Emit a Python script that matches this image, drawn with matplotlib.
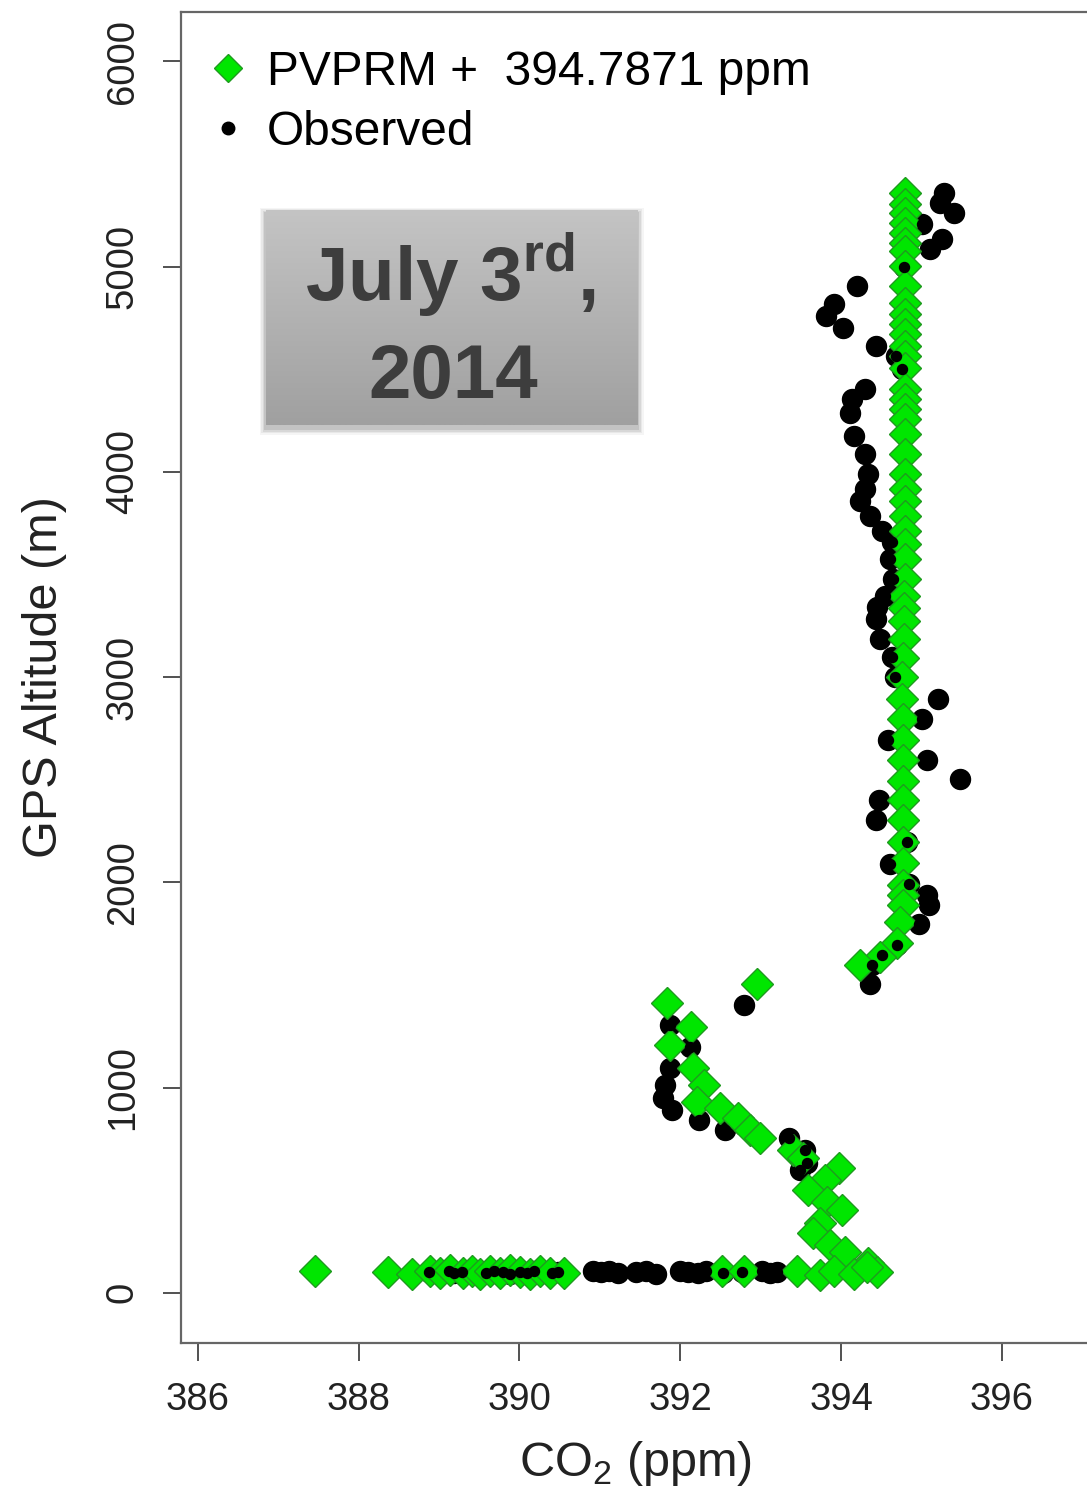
import numpy as np
import matplotlib
matplotlib.use('Agg')
import matplotlib.pyplot as plt
from matplotlib.lines import Line2D
from matplotlib.patches import Rectangle

plt.rcParams['font.family'] = ['Liberation Sans', 'DejaVu Sans']
plt.rcParams['mathtext.fontset'] = 'custom'
plt.rcParams['mathtext.rm'] = 'Liberation Sans'
plt.rcParams['mathtext.bf'] = 'Liberation Sans:bold'

# ── PVPRM (model + 394.7871 ppm offset) ──────────────────────────────
pv_co2 = [394.80, 394.80, 394.80, 394.80, 394.80, 394.80, 394.80, 394.80, 394.80, 394.80,
          394.80, 394.80, 394.80, 394.80, 394.80, 394.80, 394.80, 394.80, 394.80, 394.80,
          394.80, 394.80, 394.80, 394.80, 394.79, 394.79, 394.79, 394.79, 394.79, 394.79,
          394.78, 394.78, 394.78, 394.78, 394.77, 394.76, 394.76, 394.77, 394.77, 394.77,
          394.77, 394.77, 394.77, 394.77, 394.77, 394.77, 394.77, 394.77, 394.74, 394.70,
          394.49, 394.24,
          391.83, 392.14, 391.87, 392.16, 392.29, 392.21, 392.50, 392.72, 392.87, 392.99, 392.95,
          393.40, 393.53, 393.97, 393.80, 393.59, 393.82, 394.01, 393.74, 393.65, 393.86,
          394.05, 394.33, 394.45,
          387.46, 388.37, 388.66, 388.89, 389.01, 389.14, 389.30, 389.41, 389.51, 389.63,
          389.76, 389.88, 390.01, 390.13, 390.26, 390.38, 390.55,
          392.52, 392.79, 393.45, 393.74, 393.91, 394.16, 394.32]
pv_alt = [5360, 5305, 5260, 5212, 5163, 5114, 5075, 5002, 4905, 4822,
          4769, 4720, 4672, 4613, 4564, 4506, 4404, 4355, 4307, 4258,
          4185, 4088, 3990, 3917, 3859, 3786, 3713, 3650, 3577, 3480,
          3397, 3338, 3275, 3187, 3095, 2998, 2895, 2798, 2691, 2594,
          2496, 2399, 2302, 2195, 2092, 1985, 1937, 1888, 1805, 1703,
          1635, 1596,
          1410, 1296, 1207, 1093, 1012, 931, 899, 850, 793, 753, 1507,
          696, 657, 608, 550, 501, 443, 404, 341, 292, 234,
          200, 146, 100,
          104, 100, 92, 106, 98, 110, 95, 104, 90, 108,
          97, 112, 100, 94, 106, 99, 96,
          104, 104, 104, 88, 104, 90, 128]

# ── Observed aircraft profile ────────────────────────────────────────
obs_co2 = [395.28, 395.23, 395.40, 395.01, 395.26, 395.11, 394.78, 394.20, 393.91, 393.81,
           394.03, 394.43, 394.68, 394.76, 394.30, 394.14, 394.11, 394.16, 394.30, 394.34,
           394.30, 394.24, 394.36, 394.51, 394.63, 394.61, 394.65, 394.55, 394.45, 394.43,
           394.49, 394.63, 394.67, 395.21, 395.01, 394.59, 395.07, 395.48, 394.47, 394.43,
           394.82, 394.61, 394.84, 395.07, 395.09, 394.97, 394.70, 394.51, 394.38, 394.36,
           392.79, 391.87, 392.12, 391.87, 391.81, 391.79, 391.90, 392.23, 392.56, 393.35,
           393.55, 393.58, 393.49,
           388.87, 389.12, 389.18, 389.28, 389.59, 389.68, 389.80, 389.88, 390.01, 390.09,
           390.18, 390.40, 390.48,
           390.92, 391.02, 391.12, 391.22, 391.45, 391.58, 391.70, 392.00, 392.10, 392.22,
           392.32, 392.53, 392.77, 393.02, 393.12, 393.20]
obs_alt = [5359, 5311, 5262, 5205, 5132, 5084, 4998, 4905, 4816, 4759,
           4702, 4613, 4564, 4500, 4402, 4354, 4289, 4175, 4086, 3989,
           3916, 3859, 3786, 3713, 3656, 3575, 3478, 3397, 3340, 3283,
           3186, 3096, 3002, 2894, 2797, 2691, 2594, 2505, 2399, 2302,
           2196, 2091, 1994, 1937, 1888, 1799, 1694, 1645, 1596, 1507,
           1401, 1304, 1199, 1093, 1012, 947, 891, 842, 793, 753,
           696, 633, 599,
           100, 104, 98, 102, 96, 104, 100, 94, 102, 98,
           104, 96, 100,
           104, 100, 108, 96, 100, 106, 94, 108, 100, 96,
           104, 98, 103, 106, 96, 102]

xticks = [386, 388, 390, 392, 394, 396]
yticks = [0, 1000, 2000, 3000, 4000, 5000, 6000]

green = '#00e600'
green_edge = '#1f9a1f'

fig = plt.figure(figsize=(10.87, 14.88), dpi=100)
ax = fig.add_axes([0.1665, 0.0975, 0.8372, 0.8944])

ax.plot(obs_co2, obs_alt, 'o', color='black', markersize=14.4, zorder=2)
ax.plot(pv_co2, pv_alt, 'D', markerfacecolor=green, markeredgecolor=green_edge,
        markeredgewidth=1.0, markersize=16.2, zorder=3)
ax.plot(obs_co2, obs_alt, 'o', color='black', markersize=7.2, zorder=4)

ax.set_xlim(385.79, 397.11)
ax.set_ylim(-244, 6240)
ax.set_xticks(xticks)
ax.set_yticks(yticks)
ax.set_xticklabels([str(t) for t in xticks])
ax.set_yticklabels([str(t) for t in yticks])
ax.tick_params(axis='both', direction='out', length=13, width=1.2, color='#333333',
               labelsize=27.5, labelcolor='#222222', pad=15)
ax.tick_params(axis='y', labelrotation=90, pad=16)
for lab in ax.get_yticklabels():
    lab.set_va('center')
for s in ax.spines.values():
    s.set_color('#666666')
    s.set_linewidth(1.6)

ax.set_xlabel('CO$_\\mathrm{2}$ (ppm)', fontsize=35, color='#222222', labelpad=15)
ax.set_ylabel('GPS Altitude (m)', fontsize=35, color='#222222', labelpad=27)

handles = [Line2D([], [], marker='D', linestyle='none', markerfacecolor=green,
                  markeredgecolor=green_edge, markersize=14.5),
           Line2D([], [], marker='o', linestyle='none', color='black', markersize=9)]
ax.legend(handles, ['PVPRM +  394.7871 ppm', 'Observed'], loc='upper left',
          bbox_to_anchor=(0.0303, 0.9715), borderaxespad=0, borderpad=0,
          frameon=False, fontsize=34.5, handlelength=0.8, handletextpad=0.42,
          labelspacing=0.31)

# ── Date label box with soft shadow ──────────────────────────────────
bx, by, bw, bh = 0.2447, 0.7144, 0.3422, 0.1445
px_w, px_h = 1 / 1087, 1 / 1488
for i, a in enumerate([0.04, 0.05, 0.07, 0.09]):
    g = (4 - i) * 1.5
    fig.patches.append(Rectangle((bx - g * px_w, by - (g + 4) * px_h),
                                 bw + 2 * g * px_w, bh + 2 * g * px_h,
                                 transform=fig.transFigure, facecolor='black',
                                 edgecolor='none', alpha=a, zorder=0.5))
bax = fig.add_axes([bx, by, bw, bh], zorder=1)
grad = np.linspace(0, 1, 200).reshape(-1, 1)
bax.imshow(grad, aspect='auto', cmap=matplotlib.colors.LinearSegmentedColormap.from_list(
    'box', ['#c4c4c4', '#a0a0a0']), extent=(0, 1, 0, 1), origin='upper')
bax.set_xlim(0, 1)
bax.set_ylim(0, 1)
bax.axis('off')
bax.text(0.495, 0.581, 'July 3$^{\\mathbf{rd}}$,', ha='center', va='baseline',
         fontsize=55, fontweight='bold', color='#3d3d3d')
bax.text(0.503, 0.126, '2014', ha='center', va='baseline',
         fontsize=55, fontweight='bold', color='#3d3d3d')

fig.savefig('out.png', dpi=100)
